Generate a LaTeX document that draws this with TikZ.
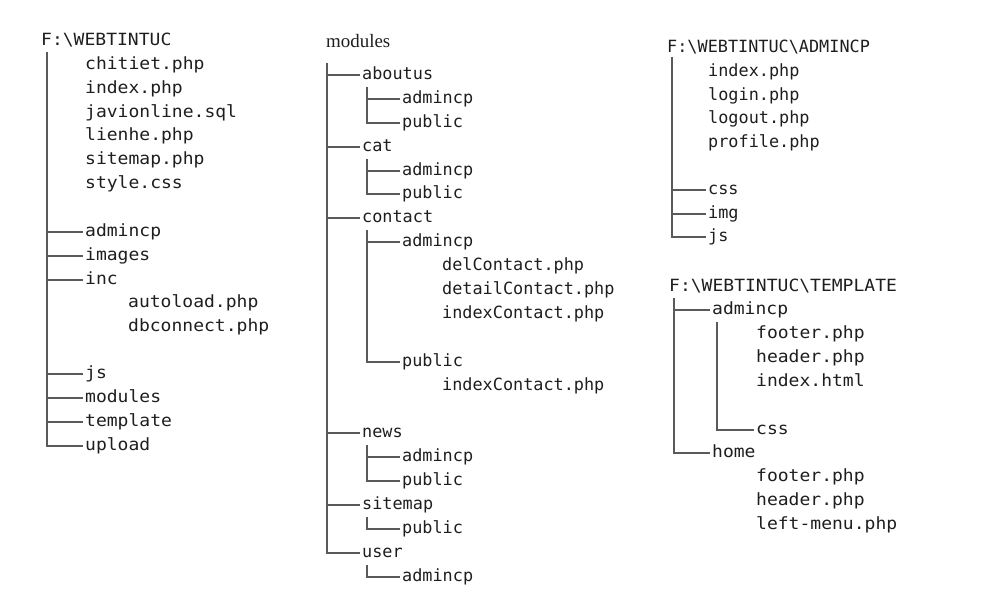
\documentclass[tikz,border=0pt]{standalone}
\usepackage{fontspec}
\setmainfont{Liberation Serif}
\newfontfamily\monowide[FakeStretch=1.07]{DejaVu Sans Mono}
\newfontfamily\mononarrow{DejaVu Sans Mono}
\definecolor{treeline}{HTML}{5A5A5A}
\definecolor{treetext}{HTML}{1E1E1E}
\begin{document}
\begin{tikzpicture}[x=1bp,y=-1bp,
branch/.style={draw=treeline,line width=2bp},
item/.style={anchor=west,inner xsep=2bp,inner ysep=0pt,text height=9.2pt,text depth=0pt,
  text=treetext,font=\mononarrow\fontsize{16.9}{20}\selectfont},
wide/.style={font=\monowide\fontsize{16.9}{20}\selectfont},
root/.style={item,anchor=base west}]
\useasboundingbox (0,0) rectangle (1006,601);
%F:\WEBTINTUC
  \node[root,wide] (a) at (39,46) {F:\textbackslash WEBTINTUC};
  \foreach \f/\y [count=\i] in {chitiet.php/65,index.php/89,javionline.sql/113,lienhe.php/136,sitemap.php/160,style.css/184}
    \node[item,wide] (af\i) at (83,\y) {\f};
  \node[item,wide] (aadmincp) at (83,232) {admincp};
  \node[item,wide] (aimages) at (83,256) {images};
  \node[item,wide] (ainc) at (83,280) {inc};
  \node[item,wide] (aautoload) at (126,303) {autoload.php};
  \node[item,wide] (adbconnect) at (126,327) {dbconnect.php};
  \node[item,wide] (ajs) at (83,374) {js};
  \node[item,wide] (amodules) at (83,398) {modules};
  \node[item,wide] (atemplate) at (83,422) {template};
  \node[item,wide] (aupload) at (83,446) {upload};
  \coordinate (va) at ([shift={(8,6)}]a.base west);
  \draw[branch] (va) |- (aupload.west);
  \foreach \n in {aadmincp,aimages,ainc,ajs,amodules,atemplate}
    \draw[branch] (va |- \n.west) -- (\n.west);
%modules
  \node[root,font=\rmfamily\fontsize{19}{22}\selectfont,text height=] (m) at (324,48) {modules};
  \node[item] (maboutus) at (360,75) {aboutus};
  \node[item] (maboutusadm) at (400,99) {admincp};
  \node[item] (maboutuspub) at (400,123) {public};
  \node[item] (mcat) at (360,147) {cat};
  \node[item] (mcatadm) at (400,171) {admincp};
  \node[item] (mcatpub) at (400,194) {public};
  \node[item] (mcontact) at (360,218) {contact};
  \node[item] (mcontactadm) at (400,242) {admincp};
  \node[item] (mdel) at (440,266) {delContact.php};
  \node[item] (mdetail) at (440,290) {detailContact.php};
  \node[item] (mindexadm) at (440,314) {indexContact.php};
  \node[item] (mcontactpub) at (400,362) {public};
  \node[item] (mindexpub) at (440,386) {indexContact.php};
  \node[item] (mnews) at (360,433) {news};
  \node[item] (mnewsadm) at (400,457) {admincp};
  \node[item] (mnewspub) at (400,481) {public};
  \node[item] (msitemap) at (360,505) {sitemap};
  \node[item] (msitemappub) at (400,529) {public};
  \node[item] (muser) at (360,553) {user};
  \node[item] (museradm) at (400,577) {admincp};
  \coordinate (vm) at ([shift={(3,15)}]m.base west);
  \draw[branch] (vm) |- (muser.west);
  \foreach \n in {maboutus,mcat,mcontact,mnews,msitemap}
    \draw[branch] (vm |- \n.west) -- (\n.west);
  \foreach \p/\a/\b in {maboutus/maboutusadm/maboutuspub,mcat/mcatadm/mcatpub,
      mcontact/mcontactadm/mcontactpub,mnews/mnewsadm/mnewspub}{
    \coordinate (v\p) at ([shift={(7,12)}]\p.west);
    \draw[branch] (v\p) |- (\b.west);
    \draw[branch] (v\p |- \a.west) -- (\a.west);
  }
  \coordinate (vmsitemap) at ([shift={(7,12)}]msitemap.west);
  \draw[branch] (vmsitemap) |- (msitemappub.west);
  \coordinate (vmuser) at ([shift={(7,12)}]muser.west);
  \draw[branch] (vmuser) |- (museradm.west);
%F:\WEBTINTUC\ADMINCP
  \node[root] (c) at (665,53) {F:\textbackslash WEBTINTUC\textbackslash ADMINCP};
  \foreach \f/\y [count=\i] in {index.php/72,login.php/96,logout.php/119,profile.php/143}
    \node[item] (cf\i) at (706,\y) {\f};
  \node[item] (ccss) at (706,190) {css};
  \node[item] (cimg) at (706,214) {img};
  \node[item] (cjs) at (706,237) {js};
  \coordinate (vc) at ([shift={(7,4)}]c.base west);
  \draw[branch] (vc) |- (cjs.west);
  \foreach \n in {ccss,cimg}
    \draw[branch] (vc |- \n.west) -- (\n.west);
%F:\WEBTINTUC\TEMPLATE
  \node[root,wide] (t) at (667,292) {F:\textbackslash WEBTINTUC\textbackslash TEMPLATE};
  \node[item,wide] (tadmincp) at (710,310) {admincp};
  \foreach \f/\y [count=\i] in {footer.php/334,header.php/358,index.html/382}
    \node[item,wide] (taf\i) at (754,\y) {\f};
  \node[item,wide] (tcss) at (754,430) {css};
  \node[item,wide] (thome) at (710,453) {home};
  \foreach \f/\y [count=\i] in {footer.php/477,header.php/501,left-menu.php/525}
    \node[item,wide] (thf\i) at (754,\y) {\f};
  \coordinate (vt) at ([shift={(7,6)}]t.base west);
  \draw[branch] (vt) |- (thome.west);
  \draw[branch] (vt |- tadmincp.west) -- (tadmincp.west);
  \coordinate (vtadmincp) at ([shift={(7,12)}]tadmincp.west);
  \draw[branch] (vtadmincp) |- (tcss.west);
\end{tikzpicture}
\end{document}
